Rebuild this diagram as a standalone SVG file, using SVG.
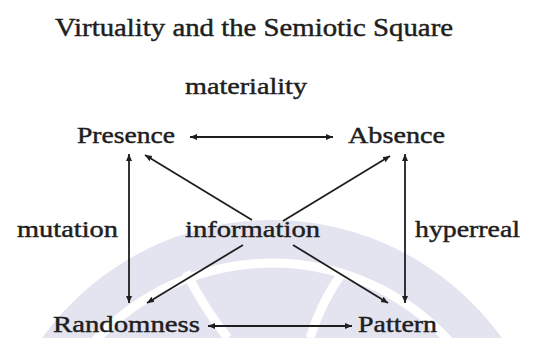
<svg xmlns="http://www.w3.org/2000/svg" width="533" height="338" viewBox="0 0 533 338">
<style>
  text { font-family: "Liberation Serif", "Times New Roman", serif; fill: #1e1e1e; stroke: #1e1e1e; stroke-width: 0.45; }
  .title { font-size: 26px; }
  .lbl { font-size: 24px; }
  .edge { stroke: #1e1e1e; stroke-width: 1.8; fill: none; }
  .wm { fill: #e4e4f0; }
  .wmw { fill: none; stroke: #ffffff; stroke-width: 9; }
</style>
<defs>
  <marker id="ah" markerUnits="userSpaceOnUse" markerWidth="10" markerHeight="8" refX="7" refY="3" orient="auto-start-reverse">
    <path d="M0,0 L7,3 L0,6 z" fill="#1e1e1e"/>
  </marker>
</defs>
<rect width="533" height="338" fill="#ffffff"/>
<g id="watermark">
  <circle class="wm" cx="272" cy="503" r="283"/>
  <circle class="wmw" cx="272" cy="503" r="240"/>
  <path class="wmw" d="M186 272 Q205 310 228 338"/>
  <path class="wmw" d="M343 272 Q322 300 310 338"/>
</g>
<text class="title" x="55" y="36" textLength="398" lengthAdjust="spacingAndGlyphs">Virtuality and the Semiotic Square</text>
<g id="connectors">
  <line class="edge" x1="190" y1="137" x2="333" y2="137" marker-start="url(#ah)" marker-end="url(#ah)"/>
  <line class="edge" x1="208" y1="326" x2="352" y2="326" marker-start="url(#ah)" marker-end="url(#ah)"/>
  <line class="edge" x1="129" y1="154" x2="129" y2="303" marker-start="url(#ah)" marker-end="url(#ah)"/>
  <line class="edge" x1="405" y1="154" x2="405" y2="303" marker-start="url(#ah)" marker-end="url(#ah)"/>
  <line class="edge" x1="145" y1="155" x2="252" y2="220" marker-start="url(#ah)"/>
  <line class="edge" x1="293" y1="245" x2="388" y2="303" marker-end="url(#ah)"/>
  <line class="edge" x1="390" y1="156" x2="283" y2="221" marker-start="url(#ah)"/>
  <line class="edge" x1="243" y1="245" x2="147" y2="303" marker-end="url(#ah)"/>
</g>
<g id="label-materiality"><text class="lbl" x="185" y="94" textLength="122" lengthAdjust="spacingAndGlyphs">materiality</text></g>
<g id="node-presence"><text class="lbl" x="77" y="143" textLength="98" lengthAdjust="spacingAndGlyphs">Presence</text></g>
<g id="node-absence"><text class="lbl" x="348" y="143" textLength="97" lengthAdjust="spacingAndGlyphs">Absence</text></g>
<g id="label-mutation"><text class="lbl" x="17" y="237" textLength="101" lengthAdjust="spacingAndGlyphs">mutation</text></g>
<g id="label-information"><text class="lbl" x="185" y="237" textLength="135" lengthAdjust="spacingAndGlyphs">information</text></g>
<g id="label-hyperreal"><text class="lbl" x="415" y="237" textLength="105" lengthAdjust="spacingAndGlyphs">hyperreal</text></g>
<g id="node-randomness"><text class="lbl" x="53" y="332" textLength="147" lengthAdjust="spacingAndGlyphs">Randomness</text></g>
<g id="node-pattern"><text class="lbl" x="358" y="332" textLength="79" lengthAdjust="spacingAndGlyphs">Pattern</text></g>
</svg>
